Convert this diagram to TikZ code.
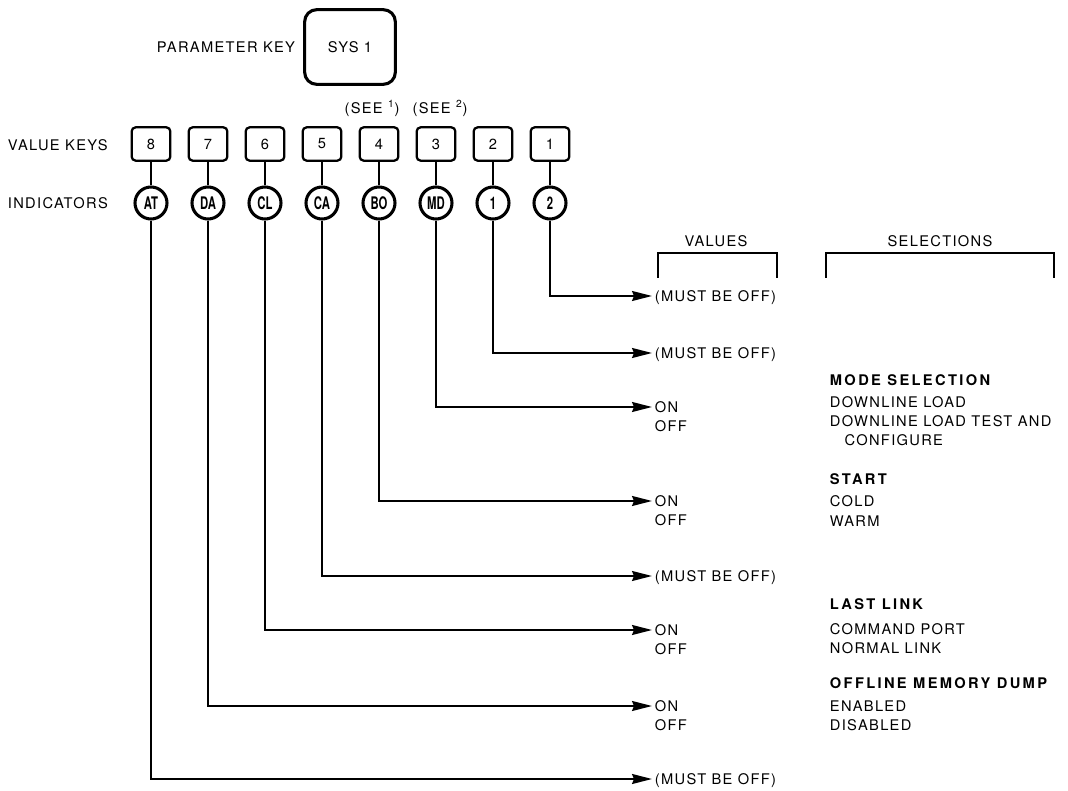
\documentclass[tikz,border=0pt]{standalone}
\usepackage{fontspec}
\setmainfont{TeX Gyre Heros}[LetterSpace=9]
\usepackage{graphicx}
\usetikzlibrary{arrows.meta,positioning}
\newcommand{\indlbl}[1]{\scalebox{0.85}[1.3]{\addfontfeature{LetterSpace=0}\bfseries #1}}
\newcommand{\hdr}[1]{{\bfseries\addfontfeature{LetterSpace=16}#1}}
\tikzset{
	txt/.style={font=\fontsize{11}{13.5}\selectfont, inner sep=2pt, text height=7.9pt, text depth=0pt},
	keybox/.style={draw, line width=1.7pt, rounded corners=3pt, minimum width=29pt, minimum height=25pt, inner sep=0pt, font=\fontsize{11}{13.5}\selectfont},
	indc/.style={draw, circle, line width=2.3pt, minimum size=24pt, inner sep=0pt},
	link/.style={line width=1.3pt},
	feed/.style={line width=1.3pt, -{Stealth[length=15pt,width=7.5pt,inset=1.5pt]}},
	bracket/.style={line width=1.5pt}
}
\begin{document}
\begin{tikzpicture}[x=0.75pt,y=-0.75pt]
		\useasboundingbox (0,0) rectangle (1068,791);
		\node[txt] (parkey) at (226,47) {PARAMETER KEY};
		\node[draw, line width=2.3pt, rounded corners=9pt, minimum width=68pt, minimum height=56pt, font=\fontsize{11}{13.5}\selectfont] (sys) at (350,47) {SYS 1};
		\node[txt] (see1) at (372,108) {(SEE \textsuperscript{1})};
		\node[txt] (see2) at (440,108) {(SEE \textsuperscript{2})};
		\node[txt, anchor=west] (vkeys) at (5,145) {VALUE KEYS};
		\node[txt, anchor=west] (inds) at (5,203) {INDICATORS};
		\foreach \k/\n/\x in {8/AT/151,7/DA/208,6/CL/265,5/CA/322,4/BO/379,3/MD/436,2/1/493,1/2/550}{
			\node[keybox] (k\k) at (\x,144) {\k};
			\node[indc] (i\k) at (\x,203) {\indlbl{\n}};
			\draw[link] (k\k) -- (i\k);
		}
		\node[txt] (vals) at (716,241) {VALUES};
		\node[txt] (sels) at (940,241) {SELECTIONS};
		\draw[bracket] (658,278) -- (658,253) -- (777,253) -- (777,278);
		\draw[bracket] (826,278) -- (826,253) -- (1054,253) -- (1054,278);
		\foreach \k/\y in {1/296,2/353,5/576,8/779}
			\node[txt, anchor=west] (v\k) at (652,\y) {(MUST BE OFF)};
		\foreach \k/\y in {3/407,4/501,6/630,7/706}{
			\node[txt, anchor=west] (v\k) at (652,\y) {ON};
			\node[txt, anchor=west] (off\k) at (652,\y+19) {OFF};
		}
		\foreach \k in {1,...,8}
			\draw[feed] (i\k) |- (v\k);
		\foreach \y/\t [count=\i] in {380/\hdr{MODE SELECTION},402/DOWNLINE LOAD,421/DOWNLINE LOAD TEST AND,440/\hspace*{11pt}CONFIGURE,
			479/\hdr{START},501/COLD,521/WARM,
			604/\hdr{LAST LINK},629/COMMAND PORT,648/NORMAL LINK,
			683/\hdr{OFFLINE MEMORY DUMP},706/ENABLED,725/DISABLED}
			\node[txt, anchor=west] (sel\i) at (827,\y) {\t};
\end{tikzpicture}
\end{document}
